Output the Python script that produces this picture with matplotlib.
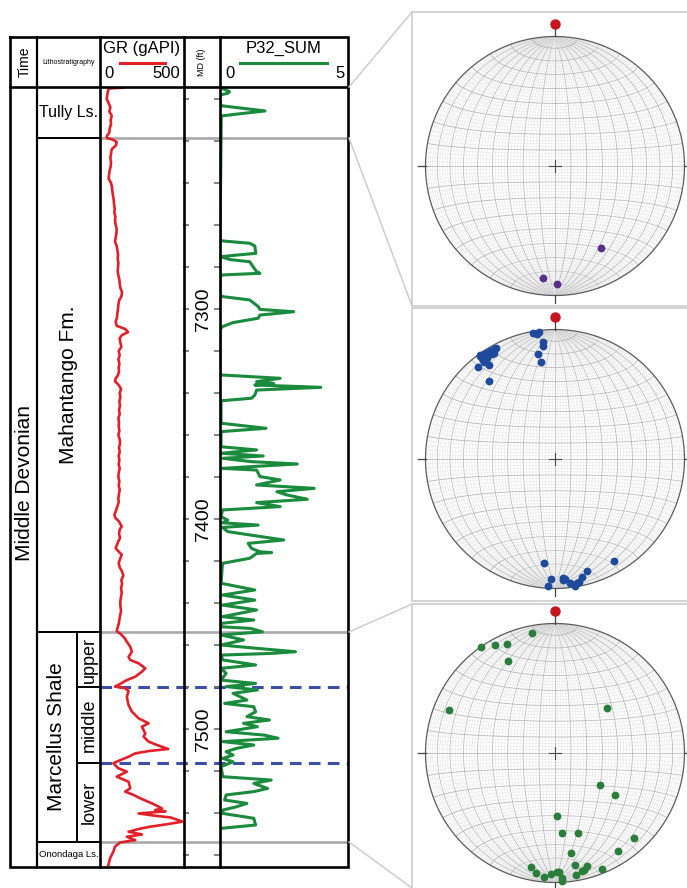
import numpy as np
import matplotlib
matplotlib.use("Agg")
import matplotlib.pyplot as plt

plt.rcParams['font.family'] = ['Liberation Sans', 'DejaVu Sans']

# ---------------- data ----------------
depth_top, depth_bot = 7194.3, 7565.7          # displayed MD range (ft)
md_labels = [7300, 7400, 7500]
md_ticks = list(range(7200, 7561, 20))

age_label = "Middle Devonian"
formations = ["Tully Ls.", "Mahantango Fm.", "Marcellus Shale", "Onondaga Ls."]
formation_tops = [7194.3, 7218.6, 7453.8, 7553.8]
marcellus_units = ["upper", "middle", "lower"]
marcellus_unit_tops = [7453.8, 7480.0, 7516.2]

gr_depth = [7194.6, 7195.0, 7196, 7198, 7200, 7202, 7204, 7206, 7208, 7210, 7212, 7214, 7216,
            7217.5, 7218.5, 7219.5, 7220.5, 7222, 7224, 7226, 7228, 7230, 7232, 7234, 7236,
            7238, 7240, 7242, 7244, 7246, 7248, 7250, 7252, 7254, 7256, 7258, 7260, 7262,
            7264, 7266, 7268, 7270, 7272, 7274, 7276, 7278, 7280, 7282, 7284, 7286, 7288,
            7290, 7292, 7294, 7296, 7298, 7300, 7302, 7304, 7306, 7308, 7309.5, 7311,
            7312.5, 7314, 7316, 7318, 7320, 7322, 7324, 7326, 7328, 7330, 7332, 7333,
            7334.5, 7336, 7338, 7340, 7342, 7344, 7346, 7348, 7350, 7352, 7354, 7356, 7358,
            7360, 7362, 7364, 7366, 7368, 7370, 7372, 7374, 7376, 7378, 7380, 7382, 7384,
            7386, 7388, 7390, 7392, 7394, 7396, 7398, 7399.5, 7401, 7403.5, 7405, 7407,
            7409, 7411, 7413, 7414, 7415.5, 7417, 7419, 7421, 7423, 7425, 7427, 7429, 7431,
            7433, 7435, 7437, 7439, 7441, 7444, 7446, 7448, 7450, 7452, 7453.3, 7455.2,
            7457, 7458.4, 7460.8, 7463.2, 7465.6, 7467.1, 7468.7, 7471.1, 7472.7, 7475.1,
            7476.7, 7479, 7479.8, 7480.6, 7481.9, 7484.6, 7486.5, 7488.6, 7491.7, 7494.9,
            7497.3, 7498.9, 7502.1, 7503.6, 7506, 7507.6, 7509.5, 7510.5, 7511.6, 7513.2,
            7515.2, 7516.3, 7518.7, 7520.3, 7522.7, 7525.1, 7528.2, 7529.8, 7531.4, 7533,
            7535.4, 7537, 7537.8, 7538.6, 7539.2, 7540.2, 7541.3, 7542.1, 7544.1, 7545.7,
            7546.5, 7547.6, 7548.9, 7550.2, 7551.3, 7552.9, 7554, 7556, 7558.4, 7561.6,
            7564.8]
gr_value = [140, 55, 48, 44, 40, 52, 62, 56, 70, 64, 66, 58, 56,
            42, 40, 80, 100, 96, 70, 66, 62, 66, 64, 58, 54,
            52, 66, 72, 74, 78, 82, 84, 88, 86, 92, 90, 94, 100,
            98, 94, 90, 100, 104, 108, 106, 110, 108, 106, 110, 116, 118,
            122, 132, 128, 114, 110, 108, 104, 102, 94, 100, 150, 168,
            130, 118, 122, 128, 112, 118, 110, 116, 112, 114, 104, 94,
            90, 110, 126, 118, 122, 116, 120, 114, 118, 110, 114, 112, 116,
            110, 118, 120, 114, 118, 112, 116, 112, 118, 112, 110, 116, 112,
            118, 114, 110, 112, 104, 96, 86, 92, 112, 130, 118, 114,
            120, 108, 98, 94, 112, 130, 120, 112, 118, 132, 140, 128, 132,
            126, 130, 126, 122, 122, 126, 120, 116, 112, 104, 100, 130,
            150, 160, 181, 191, 171, 181, 231, 271, 251, 211,
            161, 110, 90, 151, 171, 161, 165, 171, 191, 231,
            291, 251, 271, 261, 291, 341, 408, 291, 211, 171,
            110, 80, 110, 161, 100, 171, 181, 151, 201, 241,
            311, 351, 372, 331, 392, 231, 331, 422, 496, 371,
            301, 231, 171, 251, 161, 211, 120, 90, 80, 60,
            50]

p32_depth = [7194.5, 7196.5, 7197.3, 7198.1, 7202.5, 7203.3, 7205.7, 7207.0, 7208.1,
             7267.5, 7268.7, 7270, 7272, 7273.5, 7274.5, 7275.1, 7276.5, 7277.5, 7280,
             7282.2, 7283, 7283.8, 7284.5, 7293.5, 7294.1, 7295.7, 7298.9, 7300.2, 7301.3,
             7302.9, 7304.4, 7306.5, 7308.4, 7309.5, 7331, 7331.4, 7333, 7334.6, 7335.4,
             7336.2, 7337.3, 7338.6, 7341, 7342.5, 7343.7, 7354.4, 7356.8, 7358.4, 7365.6,
             7367.1, 7368.7, 7370, 7371.1, 7372.7, 7373.8, 7375.1, 7375.9, 7376.7, 7379.8,
             7381.4, 7383.8, 7385.4, 7387, 7388.5, 7390.6, 7392.2, 7394.1, 7395.7, 7398.9,
             7400.5, 7401.8, 7402.9, 7404, 7406, 7410, 7411.6, 7414, 7415.6, 7416, 7416.4,
             7418.7, 7421.1, 7430.6, 7433.8, 7436.2, 7438.6, 7441, 7443.3, 7446.5, 7448.1,
             7449.7, 7451.3, 7452.1, 7453.7, 7455.2, 7457.6, 7460, 7461.6, 7463.2, 7464,
             7464.8, 7467.1, 7469.5, 7471.1, 7473.5, 7476.7, 7478.3, 7479.8, 7481.4, 7483,
             7486.2, 7487.8, 7489.4, 7491.8, 7494.1, 7495.7, 7497.3, 7498.9, 7501.3, 7502.9,
             7504.4, 7506, 7507.6, 7509.2, 7510.8, 7512.4, 7514, 7515.6, 7517.9, 7522.7,
             7524.3, 7525.9, 7528.3, 7529.8, 7531.4, 7533.8, 7535.4, 7537, 7538.6, 7540.2,
             7542.5, 7545.7, 7547.3]
p32_value = [0, 0.37, 0.3, 0, 0, 0.1, 1.76, 0.8, 0.05,
             0, 1.16, 1.36, 1.38, 1.40, 0.5, 0.04, 0.4, 1.16, 1.3,
             1.43, 1.56, 0.1, 0, 0, 0.1, 1.16, 1.5, 1.56, 2.88,
             1.56, 1.49, 0.5, 0.1, 0, 0, 0.04, 2.35, 1.43, 2.09,
             1.36, 3.94, 1.43, 1.36, 1.23, 0.04, 0.04, 1.80, 0.04, 0.04,
             1.43, 0.04, 1.69, 0.1, 1.23, 3.02, 1.16, 0.1, 1.43, 1.56,
             2.35, 1.43, 3.68, 2.22, 2.6, 3.41, 1.43, 2.35, 0.1, 0.04,
             0.3, 0.1, 1.49, 0.1, 0.3, 2.49, 1.10, 1.23, 1.56, 2.02, 1.43,
             1.16, 0.1, 0.04, 1.36, 0.1, 1.36, 0.1, 1.43, 0.1, 1.32,
             0.04, 0.05, 1.19, 1.66, 0.04, 0.92, 0.04, 1.46, 2.95, 2.0,
             0.04, 0.11, 1.39, 0.04, 0.24, 0.04, 1.39, 0.24, 1.46, 0.51,
             1.05, 0.18, 1.32, 1.39, 1.05, 1.93, 0.92, 1.46, 0.24, 1.73,
             2.27, 0.11, 1.32, 0.65, 0.24, 0.51, 0.11, 0.51, 0.04, 0.11,
             2.0, 1.32, 1.86, 1.32, 0.24, 0.18, 1.05, 0.65, 0.11, 0.11,
             1.32, 1.39, 0.04]

# poles to fractures (trend, plunge in degrees), lower-hemisphere
tully_trend = [151, 186, 179]
tully_plunge = [28, 14, 10]
mahantango_trend = [350, 352, 353, 354, 354, 351, 352,
                    320, 320, 325, 324, 324, 324, 326, 327, 329, 331, 332, 329, 326, 324, 324, 326, 330,
                    186, 150, 164, 182, 183, 176, 175, 176, 173, 170, 169, 167, 171]
mahantango_plunge = [1, 3, 1, 10, 13, 19, 25,
                     8, 22, 12, 8, 4, 1, 2, 3, 3, 3, 3, 6, 7, 6, 2, 5, 6,
                     20, 10, 11, 8, 2, 9, 8, 7, 4, 3, 4, 7, 1]
marcellus_trend = [349, 325, 331, 336, 333, 292, 49, 126, 125, 178, 175, 164, 137, 147, 171,
                   192, 189, 185, 182, 179, 178, 177, 177, 170, 170, 167, 166, 164, 158]
marcellus_plunge = [6, 0, 5, 9, 21, 13, 46, 55, 43, 50, 38, 36, 11, 11, 23,
                    11, 7, 4, 7, 9, 9, 4, 1, 13, 5, 7, 8, 10, 4]

# ---------------- style / layout ----------------
RED = '#e3202a'
GREEN = '#1a8a3c'
BLUE = '#3d4ea6'
GRAY = '#a9a9a9'
W, H = 687, 888
X_TIME0, X_LITHO0, X_SUB, X_GR0, X_MD0, X_P320, X_END = 10, 37, 77, 100, 183.5, 220, 348
Y_TOP, Y_HDR, Y_BOT = 37, 87, 867
NET_CX, NET_R = 555, 129.5
NET_CY = [166, 459, 753]
BOX_Y = [(12, 306), (308, 601), (604, 900)]
BOX_X0 = 412

fig = plt.figure(figsize=(W / 100, H / 100), dpi=100)


def px_axes(x0, y0, x1, y1, z=1):
    ax = fig.add_axes([x0 / W, 1 - y1 / H, (x1 - x0) / W, (y1 - y0) / H])
    ax.set_zorder(z)
    ax.patch.set_alpha(0)
    return ax


def d2px(d):
    return Y_HDR + (d - depth_top) / (depth_bot - depth_top) * (Y_BOT - Y_HDR)


# --- formation / zone lines (under everything) ---
log_ax = px_axes(X_TIME0, Y_HDR, X_END, Y_BOT, z=0.5)
log_ax.set_xlim(X_TIME0, X_END)
log_ax.set_ylim(depth_bot, depth_top)
log_ax.axis('off')
for t in formation_tops[1:]:
    log_ax.plot([X_GR0, X_END], [t, t], color=GRAY, lw=1.9, solid_capstyle='butt')
    log_ax.plot([X_LITHO0, X_GR0], [t, t], color='black', lw=1.4, solid_capstyle='butt')
for t in marcellus_unit_tops[1:]:
    log_ax.plot([X_SUB, X_GR0], [t, t], color='black', lw=1.4, solid_capstyle='butt')
    log_ax.plot([X_GR0, X_END], [t, t], color=BLUE, lw=2.2, dashes=(3.8, 2.4), solid_capstyle='butt')
log_ax.plot([X_SUB, X_SUB], [formation_tops[2], formation_tops[3]], color='black', lw=1.4)

# litho texts
bounds = formation_tops + [depth_bot]
log_ax.text((X_LITHO0 + X_GR0) / 2 + 0.5, (bounds[0] + bounds[1]) / 2, formations[0],
            ha='center', va='center', fontsize=11.5)
log_ax.text((X_LITHO0 + X_GR0) / 2, (bounds[1] + bounds[2]) / 2, formations[1],
            ha='center', va='center', fontsize=15, rotation=90)
log_ax.text((X_LITHO0 + X_SUB) / 2, (bounds[2] + bounds[3]) / 2, formations[2],
            ha='center', va='center', fontsize=15, rotation=90)
log_ax.text(X_LITHO0 + 2, (bounds[3] + bounds[4]) / 2, formations[3],
            ha='left', va='center', fontsize=6.8)
ub = marcellus_unit_tops + [formation_tops[3]]
for i, u in enumerate(marcellus_units):
    log_ax.text((X_SUB + X_GR0) / 2 + 0.5, (ub[i] + ub[i + 1]) / 2, u,
                ha='center', va='center', fontsize=13, rotation=90)

# --- GR track ---
gr_ax = px_axes(X_GR0, Y_HDR, X_MD0, Y_BOT, z=1)
gr_ax.plot(gr_value, gr_depth, color=RED, lw=1.9, solid_joinstyle='round')
gr_ax.set_xlim(0, 500)
gr_ax.set_ylim(depth_bot, depth_top)
gr_ax.axis('off')

# --- MD track ---
md_ax = px_axes(X_MD0, Y_HDR, X_P320, Y_BOT, z=1)
md_ax.set_xlim(0, 1)
md_ax.set_ylim(depth_bot, depth_top)
md_ax.set_yticks(md_ticks)
md_ax.set_xticks([])
md_ax.tick_params(axis='y', left=True, right=True, direction='in', length=4.5,
                  width=1.2, color='#6e6e6e', labelleft=False)
for s in md_ax.spines.values():
    s.set_visible(False)
for v in md_labels:
    md_ax.text(0.55, v, str(v), ha='center', va='center', rotation=90, fontsize=14)

# --- P32 track ---
p32_ax = px_axes(X_P320, Y_HDR, X_END, Y_BOT, z=1)
p32_ax.plot(p32_value, p32_depth, color=GREEN, lw=2.2, solid_joinstyle='round')
p32_ax.set_xlim(0, 5)
p32_ax.set_ylim(depth_bot, depth_top)
p32_ax.axis('off')

# --- frame: borders, header, connectors, boxes ---
frame = px_axes(0, 0, W, H, z=5)
frame.set_xlim(0, W)
frame.set_ylim(H, 0)
frame.axis('off')
LW_T = 1.9
frame.plot([X_TIME0, X_END, X_END, X_TIME0, X_TIME0], [Y_TOP, Y_TOP, Y_BOT, Y_BOT, Y_TOP],
           color='black', lw=LW_T, solid_joinstyle='miter')
frame.plot([X_TIME0, X_END], [Y_HDR, Y_HDR], color='black', lw=LW_T)
for x in (X_LITHO0, X_GR0, X_MD0, X_P320):
    frame.plot([x, x], [Y_TOP, Y_BOT], color='black', lw=LW_T if x != X_LITHO0 else 1.6)

# header text
frame.text((X_TIME0 + X_LITHO0) / 2 + 1, (Y_TOP + Y_HDR) / 2, "Time", rotation=90,
           ha='center', va='center', fontsize=10)
frame.text((X_LITHO0 + X_GR0) / 2, (Y_TOP + Y_HDR) / 2 + 1, "Lithostratigraphy",
           ha='center', va='center', fontsize=5)
frame.text((X_GR0 + X_MD0) / 2, 48, "GR (gAPI)", ha='center', va='center', fontsize=12)
frame.plot([120, 165], [63, 63], color=RED, lw=2.2)
frame.text(X_GR0 + 4, 74, "0", ha='left', va='center', fontsize=12)
frame.text(X_MD0 - 3, 74, "500", ha='right', va='center', fontsize=12)
frame.text((X_MD0 + X_P320) / 2, (Y_TOP + Y_HDR) / 2, "MD (ft)", rotation=90,
           ha='center', va='center', fontsize=6.5)
frame.text((X_P320 + X_END) / 2, 48, "P32_SUM", ha='center', va='center', fontsize=12)
frame.plot([240, 327], [63, 63], color=GREEN, lw=2.2)
frame.text(X_P320 + 5, 74, "0", ha='left', va='center', fontsize=12)
frame.text(X_END - 3, 74, "5", ha='right', va='center', fontsize=12)

# age label
frame.text((X_TIME0 + X_LITHO0) / 2 + 1, 483, age_label, rotation=90,
           ha='center', va='center', fontsize=15)

# stereonet boxes and connectors
BOX_C = '#cdcdcd'
for (y0, y1) in BOX_Y:
    frame.plot([W + 5, BOX_X0, BOX_X0, W + 5], [y0, y0, y1, y1], color=BOX_C, lw=1.2)
conn_src = [Y_HDR, d2px(formation_tops[1]), d2px(formation_tops[2]), d2px(formation_tops[3])]
conn_dst = [BOX_Y[0][0], BOX_Y[0][1], BOX_Y[2][0], H]
for ys, yd in zip(conn_src, conn_dst):
    frame.plot([X_END + 1, BOX_X0], [ys, yd], color=BOX_C, lw=1.1)


# --- stereonets ---
def project(trend, plunge):
    t = np.radians(np.asarray(trend, float))
    p = np.radians(np.asarray(plunge, float))
    e = np.cos(p) * np.sin(t)
    n = np.cos(p) * np.cos(t)
    d = np.sin(p)
    k = 1 / np.sqrt(1 + d)
    return e * k, n * k


def draw_net(ax):
    s = np.radians(np.linspace(-90, 90, 181))
    for deg in range(-88, 89, 2):
        major = deg % 10 == 0
        c = '#b4b4b4' if major else '#e4e4e4'
        lw = 0.55 if major else 0.35
        a = np.radians(deg)
        # great circles through N and S
        e = np.cos(s) * np.sin(a); n = np.sin(s); d = np.cos(s) * np.cos(a)
        k = 1 / np.sqrt(1 + d)
        ax.plot(e * k, n * k, color=c, lw=lw, zorder=1)
        # small circles about N-S axis
        e = np.cos(a) * np.sin(s); n = np.sin(a) * np.ones_like(s); d = np.cos(a) * np.cos(s)
        k = 1 / np.sqrt(1 + d)
        ax.plot(e * k, n * k, color=c, lw=lw, zorder=1)
    th = np.linspace(0, 2 * np.pi, 400)
    ax.plot(np.cos(th), np.sin(th), color='#5a5a5a', lw=0.9, zorder=2)
    tick = '#444444'
    ax.plot([0, 0], [1, 1.09], color=tick, lw=0.9, zorder=2)
    ax.plot([0, 0], [-1, -1.06], color=tick, lw=0.9, zorder=2)
    ax.plot([1, 1.06], [0, 0], color=tick, lw=0.9, zorder=2)
    ax.plot([-1, -1.06], [0, 0], color=tick, lw=0.9, zorder=2)
    ax.plot([-0.05, 0.05], [0, 0], color=tick, lw=0.8, zorder=2)
    ax.plot([0, 0], [-0.05, 0.05], color=tick, lw=0.8, zorder=2)
    ax.plot([0], [1.095], 'o', color='#c4161c', ms=6.5, zorder=4)


net_sets = [(tully_trend, tully_plunge, '#57308a'),
            (mahantango_trend, mahantango_plunge, '#1f4a9c'),
            (marcellus_trend, marcellus_plunge, '#2a7d3a')]
half = 150
for cy, (tr, pl, col) in zip(NET_CY, net_sets):
    ax = px_axes(NET_CX - half, cy - half, NET_CX + half, cy + half, z=1)
    lim = half / NET_R
    ax.set_xlim(-lim, lim)
    ax.set_ylim(-lim, lim)
    ax.set_aspect('equal')
    ax.axis('off')
    draw_net(ax)
    x, y = project(tr, pl)
    ax.plot(x, y, 'o', color=col, ms=4.6, mec=col, zorder=3, clip_on=False)

fig.savefig('out.png', dpi=100)
